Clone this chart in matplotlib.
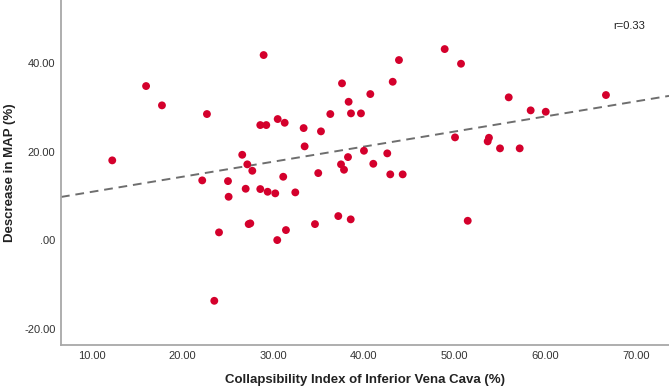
import numpy as np
import matplotlib
matplotlib.use("Agg")
import matplotlib.pyplot as plt
from matplotlib.ticker import FuncFormatter

# Collapsibility index of IVC (%) vs decrease in MAP (%)
ci_ivc = [16.0, 17.75, 22.71, 12.27, 22.19, 25.03, 25.10, 28.96, 43.88, 37.60,
          43.19, 40.72, 38.33, 36.31, 38.59, 39.69, 28.59, 29.25, 30.51, 31.28,
          33.37, 35.28, 33.48, 26.60, 27.16, 27.71, 38.26, 40.02, 42.59, 37.49,
          37.82, 41.05, 34.98, 42.92, 44.29, 31.12, 26.98, 28.59, 29.40, 30.24,
          32.45, 48.92, 50.72, 55.98, 66.70, 58.40, 60.06, 50.06, 53.80, 53.66,
          55.02, 57.19, 24.04, 23.52, 27.31, 27.49, 34.62, 37.19, 38.56, 31.42,
          30.46, 51.46]
map_drop = [34.87, 30.51, 28.55, 18.09, 13.57, 13.41, 9.87, 41.87, 40.74, 35.48,
            35.84, 33.06, 31.32, 28.55, 28.70, 28.70, 26.06, 26.06, 27.42, 26.58,
            25.38, 24.64, 21.25, 19.35, 17.19, 15.74, 18.83, 20.26, 19.67, 17.19,
            15.97, 17.32, 15.22, 14.93, 14.93, 14.39, 11.68, 11.61, 11.00, 10.64,
            10.86, 43.22, 39.91, 32.32, 32.84, 29.38, 29.07, 23.28, 23.19, 22.38,
            20.80, 20.80, 1.83, -13.62, 3.70, 3.86, 3.70, 5.51, 4.77, 2.35,
            0.09, 4.45]
r_label = "r=0.33"
x_ticks = [10, 20, 30, 40, 50, 60, 70]
y_ticks = [-20, 0, 20, 40]

x = np.array(ci_ivc)
y = np.array(map_drop)
slope, intercept = np.polyfit(x, y, 1)

fig = plt.figure(figsize=(6.69, 3.91), dpi=100)
ax = fig.add_axes([61 / 669, 46 / 391, 608 / 669, 345 / 391])

xlim = (6.62, 73.65)
ax.set_xlim(*xlim)
ax.set_ylim(-23.6, 54.3)

# fit line across the whole axis, like SPSS does
xl = np.array(xlim)
ax.plot(xl, intercept + slope * xl, color="#6e6e6e", lw=1.4,
        dashes=(4.5, 3), zorder=2)
ax.scatter(x, y, s=32, color="#d4002c", edgecolors="none", zorder=3)

ax.text(0.909, 0.925, r_label, transform=ax.transAxes, ha="left",
        va="center", fontsize=8, color="#222222", family="Liberation Sans")

def fmt(v, pos):
    s = f"{v:.2f}"
    if s.startswith("0."):
        s = s[1:]
    elif s.startswith("-0."):
        s = "-" + s[2:]
    return s

ax.set_xticks(x_ticks)
ax.set_yticks(y_ticks)
ax.xaxis.set_major_formatter(FuncFormatter(fmt))
ax.yaxis.set_major_formatter(FuncFormatter(fmt))
ax.tick_params(length=0, labelsize=8, labelcolor="#333333", pad=4)
for lab in ax.get_xticklabels() + ax.get_yticklabels():
    lab.set_family("Liberation Sans")

for side in ["top", "right"]:
    ax.spines[side].set_visible(False)
for side in ["left", "bottom"]:
    ax.spines[side].set_color("#a8a8a8")
    ax.spines[side].set_linewidth(1.3)

ax.set_xlabel("Collapsibility Index of Inferior Vena Cava (%)", fontsize=9.5,
              fontweight="bold", family="Liberation Sans", color="#222222",
              labelpad=10)
ax.set_ylabel("Descrease in MAP (%)", fontsize=9.5, fontweight="bold",
              family="Liberation Sans", color="#222222", labelpad=6)

fig.savefig("out.png", dpi=100)
